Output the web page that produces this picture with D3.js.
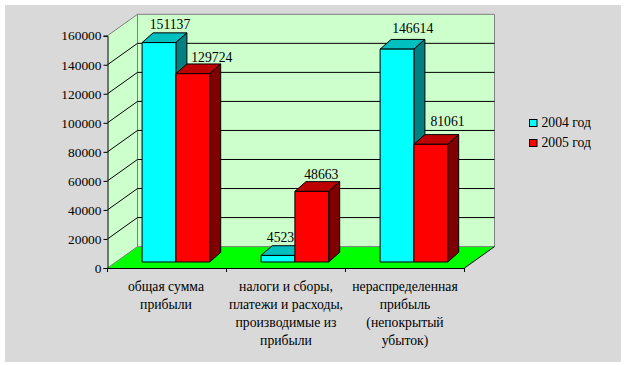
<!DOCTYPE html>
<html><head><meta charset="utf-8">
<script src="https://cdn.jsdelivr.net/npm/d3@7/dist/d3.min.js"></script>
<style>html,body{margin:0;padding:0;background:#fff}svg{display:block}text{font-family:"Liberation Serif",serif;font-size:13.7px;fill:#000}</style>
</head><body><svg id="c" width="624" height="365"></svg>
<script>
const categories = ["общая сумма прибыли","налоги и сборы, платежи и расходы, производимые из прибыли","нераспределенная прибыль (непокрытый убыток)"];
const categoryLines = [["общая сумма","прибыли"],["налоги и сборы,","платежи и расходы,","производимые из","прибыли"],["нераспределенная","прибыль","(непокрытый","убыток)"]];
const seriesNames = ["2004 год","2005 год"];
const values2004 = [151137,4523,146614];
const values2005 = [129724,48663,81061];
const yTicks = [0,20000,40000,60000,80000,100000,120000,140000,160000];
const colorFront = ["#00ffff","#ff0000"];
const colorTop = ["#00bfbf","#bf0000"];
const colorSide = ["#008080","#800000"];
// hand-placed data-label nudges relative to each bar's top face
const labelNudgeX = [[11,2.5,15.7],[19,9.5,16.7]];
const labelNudgeY = [[-3.6,-3.5,-6],[-1.6,-2.5,-9]];

const svg = d3.select("#c");
svg.append("rect").attr("x",5).attr("y",5).attr("width",616).attr("height",357).attr("fill","#d9d9d9");

const x = d3.scaleBand().domain(categories).range([107.5,464.5]);
const y = d3.scaleLinear().domain([0,160000]).range([268,35.7]);
const DX = 30, DY = -21.4;
const barW = 33.8, barDX = 11, barDY = -9.7, zX = 8.9, zY = -6;
const line = d3.line();

const y0=y(0), yT=y(160000), xL=x.range()[0], xR=x.range()[1];
svg.append("path").attr("d",line([[xL,yT],[xL+DX,yT+DY],[xL+DX,y0+DY],[xL,y0]])).attr("fill","#ccffcc");
svg.append("path").attr("d",line([[xL+DX,yT+DY],[xR+DX,yT+DY],[xR+DX,y0+DY],[xL+DX,y0+DY]])).attr("fill","#ccffcc");
svg.append("path").attr("d",line([[xL,y0],[xL+DX,y0+DY],[xR+DX,y0+DY],[xR,y0]])+"Z").attr("fill","#00ff00");
svg.append("path").attr("d",line([[xL,yT],[xL+DX,yT+DY],[xR+DX,yT+DY],[xR+DX,y0+DY],[xL+DX,y0+DY],[xL+DX,yT+DY]])).attr("fill","none").attr("stroke","#808080");
svg.append("path").attr("d",line([[xL,y0],[xL+DX,y0+DY]])).attr("stroke","#808080").attr("fill","none");
svg.append("path").attr("d",line([[xR,y0],[xR+DX,y0+DY]])).attr("stroke","#000").attr("fill","none");
yTicks.slice(1,-1).forEach(t=>{
  svg.append("path").attr("d",line([[xL,y(t)],[xL+DX,y(t)+DY],[xR+DX,y(t)+DY]])).attr("fill","none").attr("stroke","#000");
});

[values2004,values2005].forEach((vals,s)=>{
  vals.forEach((v,i)=>{
    const x0 = x(categories[i])+ (x.bandwidth()-2*barW)/2 + zX + s*barW;
    const x1 = x0+barW, b = y(0)+zY, t = y(v)+zY;
    const g = svg.append("g").attr("stroke","#000").attr("stroke-linejoin","round");
    g.append("path").attr("d",line([[x0,t],[x0+barDX,t+barDY],[x1+barDX,t+barDY],[x1,t]])+"Z").attr("fill",colorTop[s]);
    g.append("path").attr("d",line([[x1,t],[x1+barDX,t+barDY],[x1+barDX,b+barDY],[x1,b]])+"Z").attr("fill",colorSide[s]);
    g.append("rect").attr("x",x0).attr("y",t).attr("width",barW).attr("height",b-t).attr("fill",colorFront[s]);
  });
});
[values2004,values2005].forEach((vals,s)=>{
  vals.forEach((v,i)=>{
    const x0 = x(categories[i])+ (x.bandwidth()-2*barW)/2 + zX + s*barW;
    svg.append("text").attr("x",x0+barW/2+labelNudgeX[s][i]).attr("y",y(v)+zY+barDY+labelNudgeY[s][i]).attr("text-anchor","middle").text(v);
  });
});

const yAxis = d3.axisLeft(y).tickValues(yTicks).tickFormat(d3.format("d")).tickSize(4).tickPadding(2);
const gy = svg.append("g").attr("transform",`translate(${xL},0)`).call(yAxis);
gy.selectAll("line,path").attr("stroke","#000");
gy.selectAll("text").style("font-family",'"Liberation Serif",serif').style("font-size","13.4px").attr("fill","#000");

const gx = svg.append("g").attr("transform",`translate(0,${y0})`).call(d3.axisBottom(x).tickValues([]).tickSize(0));
gx.selectAll("path").attr("stroke","#000");
[0,1,2,3].forEach(k=>{
  const xx = xL + k*x.bandwidth();
  svg.append("line").attr("x1",xx).attr("x2",xx).attr("y1",y0).attr("y2",y0+4).attr("stroke","#000");
});

categories.forEach((c,i)=>{
  const t = svg.append("text").attr("text-anchor","middle");
  categoryLines[i].forEach((l,j)=>{
    t.append("tspan").attr("x",x(c)+x.bandwidth()/2+(i==0?-1:0)).attr("y",291+j*17.9).text(l);
  });
});

const legY = d3.scalePoint().domain(seriesNames).range([123,143]);
seriesNames.forEach((n,s)=>{
  svg.append("rect").attr("x",529.5).attr("y",legY(n)-3.5).attr("width",7.5).attr("height",7).attr("fill",colorFront[s]).attr("stroke","#000");
  svg.append("text").attr("x",541.5).attr("y",legY(n)+4.2).text(n);
});
</script></body></html>
